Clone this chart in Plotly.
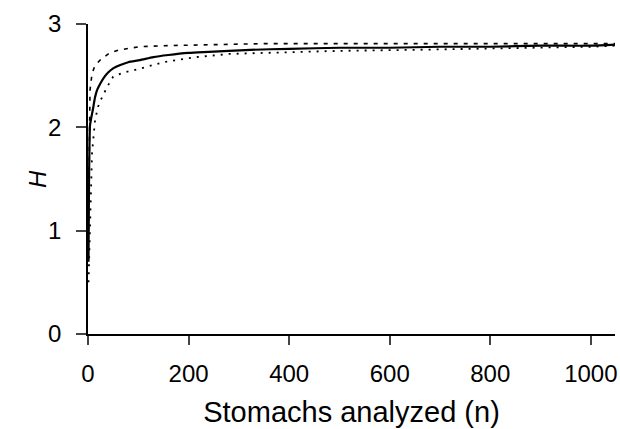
import plotly.graph_objects as go

# Accumulation curve of diversity H vs number of stomachs analyzed
n_mean = [1, 2, 3, 4, 6, 8, 10, 14, 18, 24, 30, 40, 50, 63, 80, 103, 130, 160, 200,
          240, 280, 323, 400, 500, 600, 700, 800, 900, 1000, 1048]
h_mean = [0.70, 1.45, 1.85, 2.02, 2.08, 2.13, 2.18, 2.29, 2.36, 2.42, 2.47, 2.53, 2.57,
          2.60, 2.63, 2.65, 2.68, 2.70, 2.72, 2.73, 2.74, 2.75, 2.76, 2.77, 2.77, 2.78,
          2.78, 2.79, 2.79, 2.80]

n_upper = [1, 2, 4, 8, 14, 24, 43, 63, 85, 103, 150, 250, 350, 500, 700, 900, 1048]
h_upper = [1.00, 1.90, 2.36, 2.52, 2.60, 2.65, 2.72, 2.75, 2.77, 2.78, 2.79, 2.80,
           2.81, 2.81, 2.81, 2.81, 2.81]

n_lower = [1, 3, 5, 8, 14, 20, 25, 38, 50, 70, 90, 150, 215, 280, 350, 500, 650,
           800, 900, 1000, 1048]
h_lower = [0.50, 0.90, 1.30, 1.75, 2.07, 2.20, 2.26, 2.39, 2.49, 2.53, 2.55, 2.63,
           2.68, 2.71, 2.72, 2.74, 2.75, 2.76, 2.77, 2.78, 2.79]

x_ticks = [0, 200, 400, 600, 800, 1000]
y_ticks = [0, 1, 2, 3]

fig = go.Figure()
fig.add_trace(go.Scatter(x=n_upper, y=h_upper, mode="lines",
                         line=dict(color="black", width=1.6, dash="4px,6px"),
                         showlegend=False))
fig.add_trace(go.Scatter(x=n_lower, y=h_lower, mode="lines",
                         line=dict(color="black", width=1.8, dash="2px,6px"),
                         showlegend=False))
fig.add_trace(go.Scatter(x=n_mean, y=h_mean, mode="lines", line_shape="spline",
                         line=dict(color="black", width=2.2, smoothing=0.6),
                         showlegend=False))

font_family = "Liberation Sans, Arial, sans-serif"
fig.update_layout(
    width=620, height=429,
    margin=dict(l=88, r=5, t=24, b=95, autoexpand=False),
    paper_bgcolor="white", plot_bgcolor="white",
    font=dict(family=font_family, size=24, color="black"),
    xaxis=dict(range=[0, 1048], tickvals=x_ticks, ticks="outside", ticklen=9,
               tickwidth=1.5, showline=True, linewidth=1.5, linecolor="black",
               showgrid=False, zeroline=False, ticklabelstandoff=8,
               automargin=False,
               title=dict(text="Stomachs analyzed (n)", standoff=16)),
    yaxis=dict(range=[0, 3], tickvals=y_ticks, ticks="outside", ticklen=10,
               tickwidth=1.5, showline=True, linewidth=1.5, linecolor="black",
               showgrid=False, zeroline=False, ticklabelstandoff=10,
               automargin=False),
    annotations=[dict(text="<i>H</i>", xref="paper", yref="paper", x=0, y=0.5,
                      xanchor="center", yanchor="middle", xshift=-51,
                      textangle=-90, showarrow=False,
                      font=dict(family=font_family, size=24, color="black"))],
)

fig.write_html("out.html", config={"displayModeBar": False},
               post_script="document.body.style.margin='0';document.body.style.overflow='hidden';")
